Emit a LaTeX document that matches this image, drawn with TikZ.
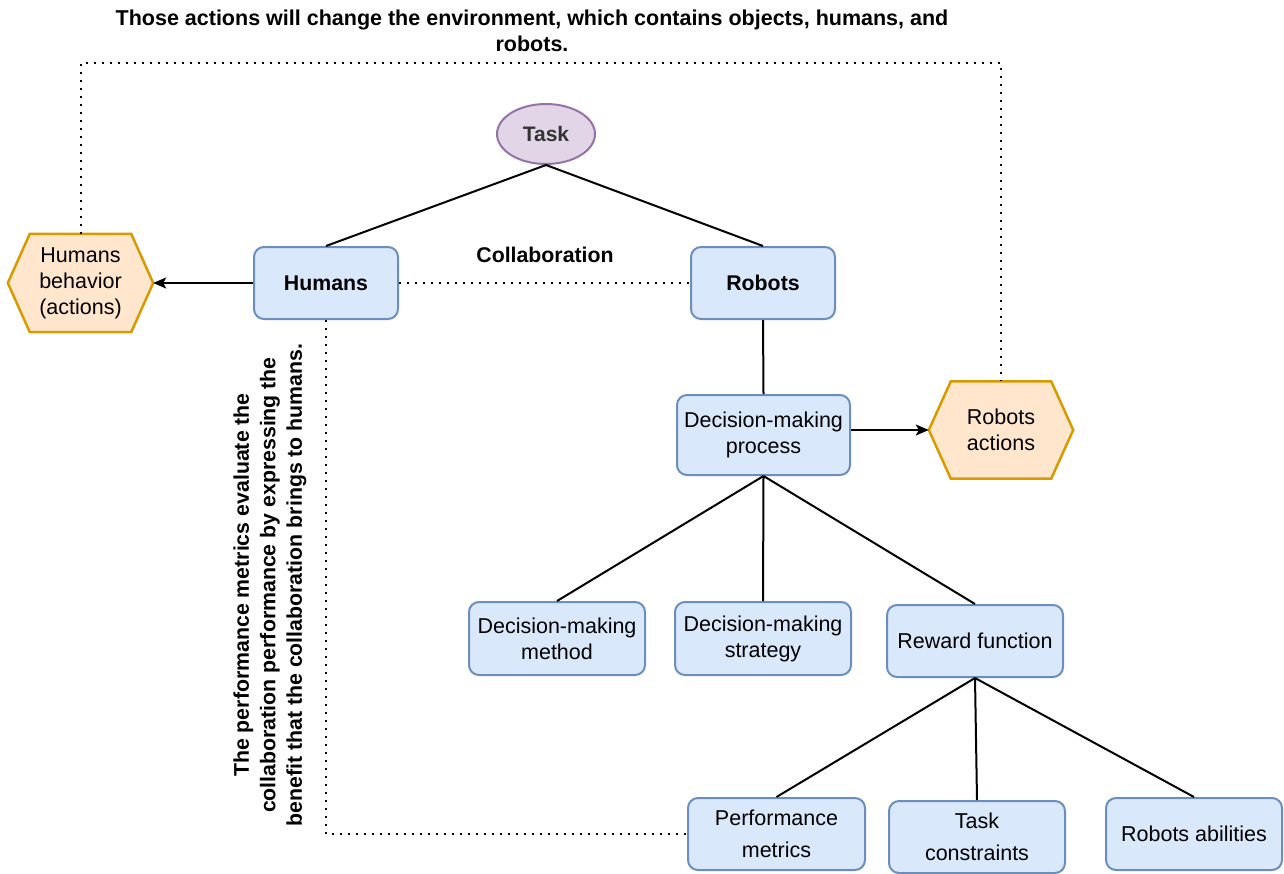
\documentclass[tikz,border=0pt]{standalone}
\usepackage{fontspec}
\setmainfont{Liberation Sans}
\usetikzlibrary{arrows.meta,backgrounds,calc,shapes.geometric}
\definecolor{bfill}{HTML}{DAE8FC}
\definecolor{bstroke}{HTML}{6C8EBF}
\definecolor{ofill}{HTML}{FFE6CC}
\definecolor{ostroke}{HTML}{D79B00}
\definecolor{pfill}{HTML}{E1D5E7}
\definecolor{pstroke}{HTML}{9673A6}
\begin{document}
\begin{tikzpicture}[x=1pt,y=-1pt,
  txt/.style={font=\fontsize{21.5}{26}\selectfont, align=center},
  box/.style 2 args={draw=bstroke, fill=bfill, line width=2pt, rounded corners=10pt,
    minimum width=#1pt, minimum height=#2pt, inner sep=0pt, txt},
  hexnode/.style 2 args={minimum width=#1pt, minimum height=#2pt, inner sep=0pt, txt},
  hex/.style={draw=ostroke, fill=ofill, line width=2.5pt},
  conn/.style={line width=2pt},
  arr/.style={line width=2pt, -{Stealth[length=13pt,width=11pt,inset=3pt]}},
  dotline/.style={line width=2pt, dash pattern=on 2pt off 6pt}]
\useasboundingbox (0,0) rectangle (1284,873);

% nodes
\node[ellipse, draw=pstroke, fill=pfill, line width=2pt, minimum width=98pt, minimum height=60pt,
  inner sep=0pt, font=\bfseries\fontsize{21}{26}\selectfont, text=black!80] (task) at (546,134) {Task};
\node[box={144}{72}, font=\bfseries\fontsize{21.3}{26}\selectfont] (hu) at (326,283) {Humans};
\node[box={144}{72}, font=\bfseries\fontsize{21.3}{26}\selectfont] (ro) at (763,283) {Robots};
\node[hexnode={145}{98}] (hb) at (80.5,283) {Humans\\behavior\\(actions)};
\node[hexnode={144}{97}] (ra) at (1001,430) {Robots\\actions};
\node[box={173}{80}] (dmp) at (763.5,435) {Decision-making\\process};
\node[box={176}{73}] (dmm) at (557,638.5) {Decision-making\\method};
\node[box={176}{73}] (dms) at (763,638.5) {Decision-making\\strategy};
\node[box={176}{72}] (rf) at (975,641) {Reward function};
\node[box={177}{72}, font=\fontsize{21.5}{32}\selectfont] (pm) at (776.5,834) {Performance\\metrics};
\node[box={176}{72}, font=\fontsize{21.5}{32}\selectfont] (tc) at (977,837) {Task\\constraints};
\node[box={176}{72}] (rab) at (1194,834) {Robots abilities};

% hexagon outlines
\begin{scope}[on background layer]
\path[hex] (hb.west) -- ([xshift=22pt]hb.north west) -- ([xshift=-22pt]hb.north east) -- (hb.east)
  -- ([xshift=-22pt]hb.south east) -- ([xshift=22pt]hb.south west) -- cycle;
\path[hex] (ra.west) -- ([xshift=22pt]ra.north west) -- ([xshift=-22pt]ra.north east) -- (ra.east)
  -- ([xshift=-22pt]ra.south east) -- ([xshift=22pt]ra.south west) -- cycle;
\end{scope}

% labels
\node[font=\bfseries\fontsize{21.5}{26}\selectfont, align=center] (toptxt) at (532,31)
  {Those actions will change the environment, which contains objects, humans, and\\robots.};
\node[font=\bfseries\fontsize{21.3}{26}\selectfont] (collab) at (545,255) {Collaboration};
\node[rotate=90, font=\bfseries\fontsize{21.3}{26.5}\selectfont, align=center] (perf) at (270,585)
  {The performance metrics evaluate the\\collaboration performance by expressing the\\benefit that the collaboration brings to humans.};

% connectors
\draw[conn] (task.south) -- (hu.north);
\draw[conn] (task.south) -- (ro.north);
\draw[arr] (hu.west) -- (hb.east);
\draw[dotline] (hu.east) -- (ro.west);
\draw[conn] (ro.south) -- (dmp.north);
\draw[arr] (dmp.east |- ra.west) -- (ra.west);
\draw[conn] (dmp.south) -- (dmm.north);
\draw[conn] (dmp.south) -- (dms.north);
\draw[conn] (dmp.south) -- (rf.north);
\draw[conn] (rf.south) -- (pm.north);
\draw[conn] (rf.south) -- (tc.north);
\draw[conn] (rf.south) -- (rab.north);

\coordinate (tl) at (80.5,63);
\coordinate (tr) at (1001,63);
\draw[dotline] (hb.north) -- (tl) -- (tr) -- (ra.north);
\draw[dotline] (hu.south) |- (pm.west);
\end{tikzpicture}
\end{document}
